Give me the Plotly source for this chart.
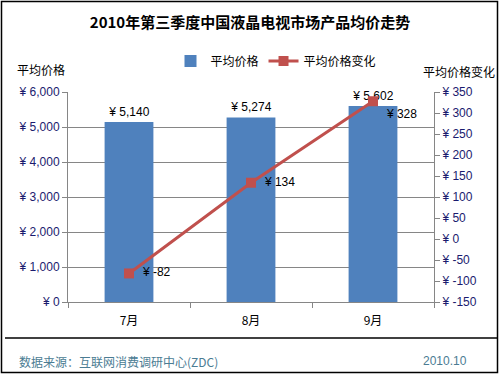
import plotly.graph_objects as go

months = ["7月", "8月", "9月"]
avg_price = [5140, 5274, 5602]
price_change = [-82, 134, 328]
left_ticks = [0, 1000, 2000, 3000, 4000, 5000, 6000]
right_ticks = [-150, -100, -50, 0, 50, 100, 150, 200, 250, 300, 350]

W, H = 500, 375
L, R, T, B = 68, 434, 92, 302

def px(x):
    return (x - L) / (R - L)

def py(y):
    return (B - y) / (B - T)

FONT = "Liberation Sans, Arial, Noto Sans CJK SC, sans-serif"
CJK = "Noto Sans CJK SC, Liberation Sans, sans-serif"

fig = go.Figure()
fig.add_trace(go.Bar(
    x=months, y=avg_price, name="平均价格",
    marker=dict(color="#4F81BD", line=dict(width=0)),
    text=["¥ {:,}".format(v) for v in avg_price],
    textposition="outside", cliponaxis=False,
    textfont=dict(size=12, color="#000000", family=FONT),
    yaxis="y",
))
fig.add_trace(go.Scatter(
    x=months, y=price_change, name="平均价格变化",
    mode="lines+markers+text",
    line=dict(color="#C0504D", width=3),
    marker=dict(symbol="square", size=10, color="#C0504D"),
    text=["  ¥ {}".format(v) for v in price_change],
    textposition=["middle right", "middle right", "bottom right"], cliponaxis=False,
    textfont=dict(size=12, color="#000000", family=FONT),
    yaxis="y2",
))

fig.update_layout(
    width=W, height=H,
    margin=dict(l=L, r=W - R, t=T, b=H - B, pad=0),
    paper_bgcolor="white", plot_bgcolor="white",
    font=dict(family=CJK, size=12, color="#000000"),
    title=dict(text="<b>2010年第三季度中国液晶电视市场产品均价走势</b>",
               x=0.5, xanchor="center", y=1 - 23 / H, yanchor="middle",
               font=dict(size=15, family=CJK, color="#000000")),
    bargap=0.6,
    showlegend=True,
    legend=dict(orientation="h", x=px(276), xanchor="center", y=py(61), yanchor="middle",
                font=dict(size=12, family=CJK), bgcolor="rgba(0,0,0,0)",
                itemwidth=30, tracegroupgap=0),
    xaxis=dict(type="category", showgrid=False, showline=True, linecolor="#868686",
               ticks="outside", tickson="boundaries", ticklen=5, tickcolor="#868686",
               ticklabelstandoff=8,
               tickfont=dict(size=12, family=CJK), zeroline=False),
    yaxis=dict(range=[0, 6000], tickmode="array", tickvals=left_ticks,
               ticktext=["¥ {:,}".format(v) for v in left_ticks],
               showgrid=True, gridcolor="#868686", gridwidth=1,
               showline=True, linecolor="#868686", ticks="outside", ticklen=5,
               tickcolor="#868686", zeroline=False,
               tickfont=dict(size=12, family=FONT, color="#1a1a6e")),
    yaxis2=dict(range=[-150, 350], tickmode="array", tickvals=right_ticks,
                ticktext=["¥ {}".format(v) for v in right_ticks],
                overlaying="y", side="right", showgrid=False,
                showline=True, linecolor="#868686", ticks="outside", ticklen=5,
                tickcolor="#868686", zeroline=False,
                tickfont=dict(size=12, family=FONT, color="#1a1a6e")),
)

annotations = [
    dict(text="平均价格", x=px(41), y=py(70), xref="paper", yref="paper",
         showarrow=False, xanchor="center", yanchor="middle", font=dict(size=12, family=CJK)),
    dict(text="平均价格变化", x=px(459), y=py(72), xref="paper", yref="paper",
         showarrow=False, xanchor="center", yanchor="middle", font=dict(size=12, family=CJK)),
    dict(text="数据来源：互联网消费调研中心(ZDC)", x=px(17), y=py(361), xref="paper", yref="paper",
         showarrow=False, xanchor="left", yanchor="middle",
         font=dict(size=12, family=CJK, color="#4B7C93")),
    dict(text="2010.10", x=px(469), y=py(361), xref="paper", yref="paper",
         showarrow=False, xanchor="right", yanchor="middle",
         font=dict(size=12, family=FONT, color="#4B7C93")),
]
fig.update_layout(annotations=annotations)

shapes = [
    dict(type="rect", xref="paper", yref="paper", x0=px(1.5), x1=px(497.5), y0=py(1.5), y1=py(372.5),
         line=dict(color="#000000", width=1.5), fillcolor="rgba(0,0,0,0)", layer="above"),
    dict(type="line", xref="paper", yref="paper", x0=px(5), x1=px(497), y0=py(338), y1=py(338),
         line=dict(color="#000000", width=1.5)),
]
fig.update_layout(shapes=shapes)

fig.write_html("out.html", config={"displayModeBar": False},
               post_script="document.body.style.margin='0';document.body.style.padding='0';document.body.style.overflow='hidden';")
